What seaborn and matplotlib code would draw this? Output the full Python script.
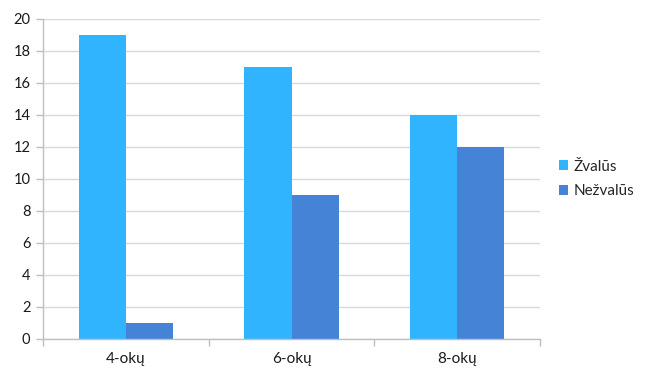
import matplotlib
matplotlib.use("Agg")
import matplotlib.pyplot as plt
import seaborn as sns
import pandas as pd
from matplotlib.ticker import FixedLocator

categories = ["4-okų", "6-okų", "8-okų"]
series_names = ["Žvalūs", "Nežvalūs"]
zvalus = [19, 17, 14]
nezvalus = [1, 9, 12]
yticks = list(range(0, 21, 2))

df = pd.DataFrame({
    "cat": categories * 2,
    "series": [series_names[0]] * 3 + [series_names[1]] * 3,
    "value": zvalus + nezvalus,
})

sns.set_theme(style="white")
plt.rcParams["font.family"] = ["Lato", "DejaVu Sans"]

fig = plt.figure(figsize=(6.46, 3.80), dpi=100)
ax = fig.add_axes([43 / 646, 41 / 380, (540 - 43) / 646, (339 - 19) / 380])

palette = {series_names[0]: "#30B4FE", series_names[1]: "#4483D5"}
sns.barplot(data=df, x="cat", y="value", hue="series", palette=palette,
            width=0.57, saturation=1, ax=ax, legend=True, linewidth=0)

ax.set_xlim(-0.5, 2.5)
ax.set_ylim(0, 20)
ax.set_yticks(yticks)
ax.set_xlabel("")
ax.set_ylabel("")
ax.yaxis.grid(True, color="#D9D9D9", linewidth=1)
ax.set_axisbelow(True)

for s in ["top", "right"]:
    ax.spines[s].set_visible(False)
for s in ["left", "bottom"]:
    ax.spines[s].set_color("#BFBFBF")
    ax.spines[s].set_linewidth(1)

ax.tick_params(axis="y", length=5, width=1, color="#BFBFBF", labelsize=10.5,
               labelcolor="#1a1a1a", pad=4, left=True)
ax.tick_params(axis="x", which="major", length=0, labelsize=11,
               labelcolor="#1a1a1a", pad=9)
ax.xaxis.set_minor_locator(FixedLocator([-0.5, 0.5, 1.5, 2.5]))
ax.tick_params(axis="x", which="minor", length=5, width=1, color="#BFBFBF", bottom=True)

leg = ax.legend(loc="center left", bbox_to_anchor=(1.01, 0.5), frameon=False,
                fontsize=11, handlelength=0.6, handleheight=0.6,
                handletextpad=0.4, labelspacing=0.7)

fig.savefig("out.png", dpi=100)
